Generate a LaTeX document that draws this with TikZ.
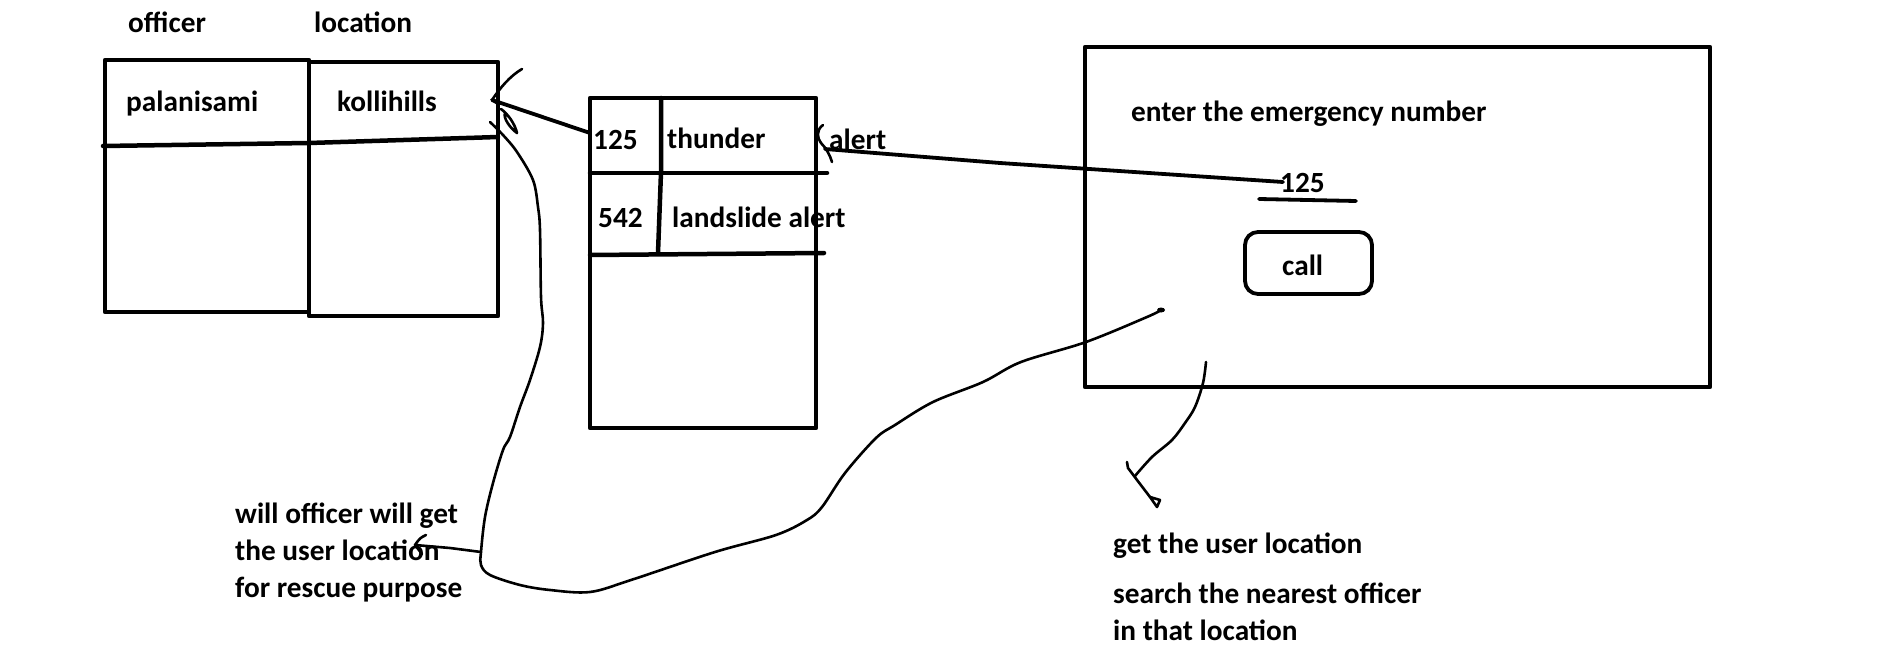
\documentclass[tikz,border=0pt]{standalone}
\usepackage{fontspec}
\setmainfont{Carlito}
\begin{document}
\begin{tikzpicture}[x=1pt,y=-1pt,line join=round,line cap=round,
  box/.style={line width=4.5pt},
  thick line/.style={line width=3.8pt},
  pen/.style={line width=2.6pt},
  lbl/.style={inner sep=0pt,anchor=base west,font=\fontsize{29.3}{35}\selectfont\bfseries}]
\fill[white] (0,0) rectangle (1879,671);
\useasboundingbox (0,0) rectangle (1879,671);

% officer / location table
\draw[box] (105,60) rectangle (309,312);
\draw[box] (309,62) rectangle (498,316);
\draw[box] (103,146) -- (309,143) -- (498,137);
\node[lbl] (hOff) at (128,33) {officer};
\node[lbl] (hLoc) at (314,33) {location};
\node[lbl] (pal) at (126,112) {palanisami};
\node[lbl] (kol) at (337,112) {kollihills};

% emergency number table
\draw[box] (590,98) rectangle (816,428);
\draw[box] (661,98) -- (661,172) -- (658,253);
\draw[box] (590,173) -- (827,173);
\draw[box] (590,255) -- (824,253);
\node[lbl] (n125) at (593,150) {125};
\node[lbl] (thun) at (667,149) {thunder};
\node[lbl] (alert) at (829,150) {alert};
\node[lbl] (n542) at (598,227) {542};
\node[lbl] (land) at (672,227) {landslide alert};

% phone screen
\draw[box] (1085,47) rectangle (1710,387);
\node[lbl] (enter) at (1131,122) {enter the emergency number};
\node[lbl] (p125) at (1280,193) {125};
\draw[thick line] (1259,199) -- (1356,201);
\draw[thick line,rounded corners=13pt] (1245,232) rectangle (1372,294);
\node[lbl] (call) at (1282,275) {call};

% bottom texts
\node[lbl] (will1) at (235,523) {will officer will get};
\node[lbl] (will2) at (235,560) {the user location};
\node[lbl] (will3) at (235,597) {for rescue purpose};
\node[lbl] (get1) at (1113,553) {get the user location};
\node[lbl] (get2) at (1113,603) {search the nearest officer};
\node[lbl] (get3) at (1113,640) {in that location};

% named ends
\coordinate (kolTip) at (492,100);
\coordinate (midStart) at (590,133);
\coordinate (alTip) at (821,143);
\coordinate (phStart) at (1283,182);
\coordinate (curveTop) at (490,122);
\coordinate (curveEnd) at (1161,310);
\coordinate (junction) at (481,552);
\coordinate (willTip) at (415,545);
\coordinate (scrStart) at (1206,362);
\coordinate (scrEnd) at (1135,476);

% 125 -> kollihills
\draw[thick line] (midStart) -- (kolTip);
\draw[pen] (kolTip) .. controls (500,88) and (510,76) .. (522,69);
\draw[pen] (kolTip) -- (498,104);
\draw[pen] (501,109) .. controls (508,114) and (515,124) .. (517,133)
           .. controls (510,128) and (503,118) .. (505,113) -- (509,117);

% phone 125 -> alert
\draw[thick line] (phStart) -- (1000,163) -- (825,149);
\draw[pen] (823,125) .. controls (816,130) and (817,138) .. (alTip)
           .. controls (826,148) and (830,155) .. (832,162);

% long curve from kollihills round to the phone
\draw[pen] plot[smooth,tension=0.55] coordinates {(curveTop) (503,135) (517,152) (533,180) (538,207)
  (540,230) (541,297) (543,323) (540,347) (530,380) (520,407) (510,437) (503,450)
  (493,483) (485,517) (481,552) (481,565) (490,575) (520,585) (550,590) (590,592)
  (631,580) (715,552) (776,535) (807,520) (822,507) (845,473) (876,438) (895,425)
  (933,402) (983,382) (1021,362) (1086,342) (1147,317) (curveEnd)};
\fill (curveEnd) ellipse [x radius=4pt, y radius=2.5pt];

% branch to "the user location"
\draw[pen] (junction) -- (450,548) -- (willTip);
\draw[pen] (426,535) .. controls (420,538) .. (willTip) -- (422,554);

% from phone: get user location
\draw[pen] plot[smooth,tension=0.55] coordinates {(scrStart) (1203,383) (1195,407) (1185,423)
  (1172,440) (1152,457) (scrEnd)};
\draw[pen] (1127,462) -- (1128,468) -- (1137,480) -- (1150,497);
\draw[pen] (1150,497) -- (1160,500) -- (1157,507) -- cycle;
\end{tikzpicture}
\end{document}
